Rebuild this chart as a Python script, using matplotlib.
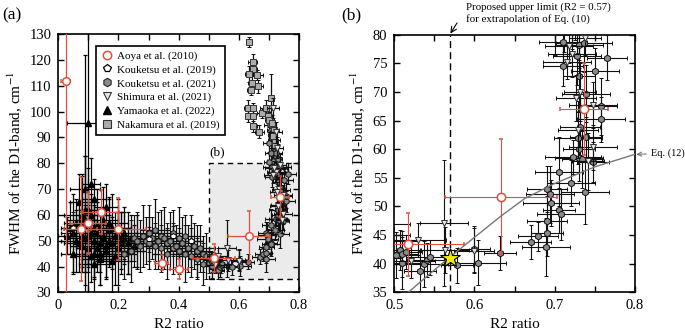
import numpy as np
import matplotlib
matplotlib.use("Agg")
import matplotlib.pyplot as plt
from matplotlib.lines import Line2D
from matplotlib.patches import Rectangle

plt.rcParams['font.family'] = ['Liberation Serif', 'DejaVu Serif']
plt.rcParams['mathtext.fontset'] = 'stix'

# ---- data ----
# Aoya et al. (2010)
aoya_x = [0.025, 0.075, 0.098, 0.143, 0.200, 0.343, 0.400, 0.517, 0.633, 0.737]
aoya_y = [112, 54.5, 57, 61, 54.5, 41.5, 39, 43.4, 51.7, 67]
aoya_xe = [0.015, 0.055, 0.06, 0.06, 0.09, 0.02, 0.03, 0.07, 0.07, 0.03]
aoya_ye = [90, 20, 12, 8.5, 12, 3, 4, 5.5, 10, 8]

# Kouketsu et al. (2019)
k19_x = [0.30, 0.38, 0.44, 0.05]
k19_y = [50.5, 51.8, 50.0, 55.0]
k19_xe = [0.03, 0.03, 0.04, 0.03]
k19_ye = [5, 4, 5, 6]

# Kouketsu et al. (2021)
k21_x = [0.22, 0.24, 0.25, 0.26, 0.27, 0.28, 0.29, 0.30, 0.30, 0.31,
         0.32, 0.32, 0.33, 0.34, 0.34, 0.35, 0.36, 0.36, 0.37, 0.38,
         0.38, 0.39, 0.40, 0.40, 0.41, 0.42, 0.42, 0.43, 0.44, 0.44,
         0.45, 0.46, 0.46, 0.47, 0.48, 0.48, 0.49,
         0.502, 0.507, 0.510, 0.510, 0.514, 0.532, 0.537, 0.541, 0.545, 0.578,
         0.599, 0.604, 0.632, 0.670, 0.679,
         0.689, 0.690, 0.691, 0.690, 0.694, 0.696, 0.706, 0.708, 0.7055, 0.7205,
         0.738, 0.723, 0.730, 0.734, 0.748, 0.730, 0.729, 0.739, 0.732, 0.758,
         0.758, 0.739, 0.731, 0.750, 0.711, 0.765, 0.728, 0.711, 0.731, 0.737,
         0.705, 0.712, 0.700, 0.716, 0.706, 0.722, 0.712, 0.730, 0.718, 0.708,
         0.725, 0.700]
k21_y = [45, 46, 51, 50, 48, 52, 50, 53, 49, 51,
         54, 48, 50, 52, 47, 51, 49, 45, 50, 53,
         47, 48, 51, 46, 49, 52, 45, 47, 50, 44,
         48, 46, 43, 47, 45, 41, 44,
         41.5, 42.4, 41.7, 40.1, 42.0, 38.7, 40.0, 40.6, 41.1, 39.7,
         42.6, 40.2, 41.9, 43.8, 44.8,
         42.9, 45.3, 47.4, 53.1, 52.1, 50.6, 49.3, 48.6, 56.1, 54.1,
         52.5, 58.6, 58.4, 58.2, 57.8, 60.1, 62.0, 62.1, 63.9, 65.2,
         67.5, 69.7, 72.7, 73.6, 74.5, 76.0, 76.3, 78.7, 78.2, 78.5,
         95, 91, 88, 86, 84, 82.5, 81, 81.5, 89, 93,
         84, 80.5]
k21_xe = [0.04, 0.05, 0.03, 0.04, 0.05, 0.03, 0.04, 0.05, 0.03, 0.04,
          0.05, 0.03, 0.04, 0.03, 0.05, 0.04, 0.03, 0.05, 0.04, 0.03,
          0.04, 0.05, 0.03, 0.04, 0.03, 0.05, 0.04, 0.03, 0.04, 0.05,
          0.03, 0.04, 0.03, 0.05, 0.04, 0.03, 0.04,
          0.03, 0.025, 0.02, 0.03, 0.02, 0.02, 0.03, 0.025, 0.03, 0.02,
          0.02, 0.035, 0.02, 0.025, 0.025,
          0.03, 0.02, 0.025, 0.025, 0.03, 0.035, 0.02, 0.03, 0.03, 0.03,
          0.03, 0.035, 0.03, 0.025, 0.02, 0.02, 0.03, 0.02, 0.025, 0.03,
          0.02, 0.03, 0.02, 0.03, 0.025, 0.025, 0.03, 0.03, 0.03, 0.035,
          0.02, 0.015, 0.02, 0.015, 0.02, 0.015, 0.02, 0.015, 0.02, 0.015,
          0.02, 0.015]
k21_ye = [10, 12, 9, 11, 10, 12, 9, 11, 10, 8,
          12, 9, 11, 10, 9, 12, 8, 10, 11, 9,
          10, 8, 12, 9, 10, 8, 11, 9, 10, 8,
          9, 10, 8, 9, 7, 8, 9,
          4, 3.5, 4, 4.5, 3, 3.5, 4, 3, 3, 3,
          4, 4, 3, 3, 2.5,
          5, 4, 4.5, 4, 5, 4, 4, 4.5, 6, 4,
          5.5, 3, 4, 5, 3.5, 4, 4.5, 3.5, 5, 4,
          5, 5, 6, 4, 3.5, 4, 5, 4, 4, 5,
          4, 5, 4, 6, 4, 5, 4, 6, 5, 4,
          5, 4]

# Shimura et al. (2021)
shi_x = [0.562, 0.530, 0.521, 0.563, 0.600, 0.738, 0.722, 0.715, 0.732, 0.727,
         0.748, 0.729, 0.748, 0.742, 0.718, 0.715, 0.722, 0.726]
shi_y = [47.1, 44.1, 40.5, 42.4, 42.3, 79.5, 76.6, 75.3, 70.0, 68.9,
         67.7, 63.4, 60.3, 57.9, 78.0, 101.5, 92.0, 86.0]
shi_xe = [0.03, 0.035, 0.03, 0.03, 0.025, 0.02, 0.03, 0.03, 0.02, 0.025,
          0.03, 0.025, 0.03, 0.02, 0.03, 0.02, 0.02, 0.02]
shi_ye = [11, 3, 3, 4, 4, 3, 4, 3, 5, 4,
          4, 5, 4, 5, 3, 4, 4, 4]

# Yamaoka et al. (2022)
ya_x = [0.10, 0.09, 0.04, 0.05, 0.06, 0.07, 0.08, 0.08, 0.09, 0.10,
        0.10, 0.11, 0.11, 0.12, 0.12, 0.13, 0.13, 0.14, 0.15, 0.15,
        0.16, 0.17, 0.18, 0.19, 0.20, 0.21, 0.22, 0.23, 0.24, 0.25,
        0.26, 0.06, 0.09, 0.12, 0.14, 0.17, 0.20, 0.23, 0.11, 0.08,
        0.05, 0.03,
        0.07, 0.09, 0.10, 0.11, 0.12, 0.13, 0.14, 0.15, 0.16, 0.17,
        0.18, 0.19, 0.20, 0.21, 0.22, 0.10, 0.12, 0.08, 0.16, 0.18]
ya_y = [95.5, 62, 55, 53, 50, 65, 52, 48, 70, 56,
        52, 44, 60, 50, 55, 47, 53, 43, 58, 51,
        46, 54, 49, 52, 47, 50, 53, 49, 51, 48,
        50, 57, 58, 66, 45, 57, 55, 46, 72, 58,
        45, 52,
        49, 51, 47, 53, 45, 56, 49, 52, 48, 50,
        55, 44, 52, 49, 51, 62, 41, 60, 63, 42]
ya_xe = [0.07, 0.02, 0.03, 0.04, 0.05, 0.03, 0.06, 0.04, 0.05, 0.07,
         0.06, 0.05, 0.04, 0.06, 0.05, 0.07, 0.04, 0.06, 0.05, 0.06,
         0.04, 0.05, 0.07, 0.05, 0.06, 0.05, 0.04, 0.06, 0.05, 0.04,
         0.05, 0.04, 0.03, 0.04, 0.05, 0.06, 0.04, 0.05, 0.03, 0.05,
         0.04, 0.03,
         0.05, 0.06, 0.04, 0.05, 0.06, 0.04, 0.05, 0.06, 0.04, 0.05,
         0.06, 0.04, 0.05, 0.06, 0.04, 0.03, 0.05, 0.06, 0.04, 0.05]
ya_ye = [68, 60, 10, 15, 12, 11, 9, 10, 13, 15,
         12, 10, 8, 14, 11, 9, 12, 10, 13, 9,
         11, 12, 10, 9, 14, 11, 10, 12, 9, 8,
         10, 9, 25, 8, 12, 10, 11, 9, 10, 18,
         8, 7,
         11, 13, 9, 12, 10, 14, 11, 9, 12, 10,
         13, 11, 9, 12, 10, 16, 14, 15, 9, 12]

# Nakamura et al. (2019)
nak_x = [0.634, 0.646, 0.648, 0.635, 0.659, 0.643, 0.665, 0.639, 0.707, 0.631,
         0.646, 0.631, 0.646, 0.676, 0.690, 0.696, 0.701, 0.648, 0.668, 0.709,
         0.717, 0.714, 0.720, 0.720]
nak_y = [127.0, 119.4, 116.5, 114.6, 114.3, 111.1, 109.8, 108.5, 105.5, 101.4,
         101.4, 98.4, 98.4, 99.5, 101.4, 98.4, 96.9, 94.3, 92.3, 95.6,
         93.0, 90.7, 88.4, 86.8]
nak_xe = [0.01, 0.015, 0.012, 0.015, 0.02, 0.012, 0.015, 0.012, 0.01, 0.015,
          0.012, 0.01, 0.012, 0.015, 0.02, 0.018, 0.015, 0.012, 0.015, 0.012,
          0.015, 0.012, 0.01, 0.012]
nak_ye = [2, 3, 2.5, 3, 2, 3, 2.5, 2, 9, 3,
          2, 2.5, 3, 2, 3, 2, 3, 2, 2.5, 3,
          2, 3, 2.5, 2]

# Eq. (12) curve
eq12_x = [0.5175, 0.55, 0.57, 0.60, 0.633, 0.663, 0.70, 0.75, 0.80]
eq12_y = [35.0, 38.9, 41.2, 44.6, 48.3, 51.4, 54.0, 56.9, 59.1]

star_x, star_y = 0.57, 41.0

RED = '#e0503c'


def draw_data(ax, ms, elw):
    ebkw = dict(ls='none', elinewidth=elw, capsize=1.6, capthick=elw)
    ax.errorbar(ya_x, ya_y, xerr=ya_xe, yerr=ya_ye, marker='^', ms=ms,
                mfc='black', mec='black', ecolor='black', zorder=3, **ebkw)
    ax.errorbar(k21_x, k21_y, xerr=k21_xe, yerr=k21_ye, marker='h', ms=ms,
                mfc='#8a8a8a', mec='#111111', mew=0.7, ecolor='#111111', zorder=4, **ebkw)
    ax.errorbar(nak_x, nak_y, xerr=nak_xe, yerr=nak_ye, marker='s', ms=ms,
                mfc='#ababab', mec='#333333', mew=0.7, ecolor='#111111', zorder=4, **ebkw)
    ax.errorbar(k19_x, k19_y, xerr=k19_xe, yerr=k19_ye, marker='p', ms=ms,
                mfc='white', mec='black', mew=0.7, ecolor='#111111', zorder=4, **ebkw)
    ax.errorbar(shi_x, shi_y, xerr=shi_xe, yerr=shi_ye, marker='v', ms=ms,
                mfc='#e6e6e6', mec='#333333', mew=0.7, ecolor='#111111', zorder=5, **ebkw)
    ax.errorbar(aoya_x, aoya_y, xerr=aoya_xe, yerr=aoya_ye, marker='o', ms=ms + 1.2,
                mfc='white', mec=RED, mew=1.1, ecolor=RED, zorder=6, **ebkw)


def style_axis(ax):
    ax.tick_params(which='both', direction='in', top=True, right=True,
                   length=4, width=1, labelsize=10.5, pad=5)
    for s in ax.spines.values():
        s.set_linewidth(1.2)
    ax.set_xlabel('R2 ratio', fontsize=11)
    ax.set_ylabel('FWHM of the D1-band, cm$^{-1}$', fontsize=11)


fig = plt.figure(figsize=(6.85, 3.36), dpi=100)
axa = fig.add_axes([58.3 / 685, 1 - 292.3 / 336, 240.7 / 685, 258 / 336])
axb = fig.add_axes([394.3 / 685, 1 - 292.3 / 336, 240.4 / 685, 257.6 / 336])

# ---- panel (a) ----
axa.add_patch(Rectangle((0.5, 35), 0.3, 45, facecolor='#ebebeb', edgecolor='black',
                        ls=(0, (4, 3)), lw=1.0, zorder=1))
draw_data(axa, 4.3, 0.9)
axa.set_xlim(0, 0.8)
axa.set_ylim(30, 130)
axa.set_xticks(np.arange(0, 0.81, 0.2))
axa.set_xticks(np.arange(0, 0.81, 0.1), minor=True)
axa.set_xticklabels(['0', '0.2', '0.4', '0.6', '0.8'])
axa.set_yticks(np.arange(30, 131, 10))
axa.text(0.503, 82, '(b)', fontsize=9.5, ha='left', va='bottom')
style_axis(axa)

handles = [
    Line2D([], [], ls='none', marker='o', ms=6, mfc='white', mec=RED, mew=1.1),
    Line2D([], [], ls='none', marker='p', ms=6, mfc='white', mec='black', mew=0.9),
    Line2D([], [], ls='none', marker='h', ms=6, mfc='#8a8a8a', mec='#222222', mew=0.8),
    Line2D([], [], ls='none', marker='v', ms=6, mfc='#e6e6e6', mec='#333333', mew=0.8),
    Line2D([], [], ls='none', marker='^', ms=6, mfc='black', mec='black'),
    Line2D([], [], ls='none', marker='s', ms=6, mfc='#ababab', mec='#333333', mew=0.8),
]
labels = ['Aoya et al. (2010)', 'Kouketsu et al. (2019)', 'Kouketsu et al. (2021)',
          'Shimura et al. (2021)', 'Yamaoka et al. (2022)', 'Nakamura et al. (2019)']
leg = axa.legend(handles, labels, loc='upper left', bbox_to_anchor=(0.155, 0.956),
                 borderaxespad=0, fontsize=8, fancybox=False, framealpha=1,
                 edgecolor='black', handletextpad=0.3, handlelength=1.2,
                 labelspacing=0.35, borderpad=0.45)
leg.get_frame().set_linewidth(1.2)
leg.set_zorder(10)

# ---- panel (b) ----
draw_data(axb, 4.8, 0.8)
axb.plot(eq12_x, eq12_y, color='#777777', lw=1.0, zorder=7)
axb.axvline(0.57, color='black', ls=(0, (5, 3)), lw=1.0, zorder=2)
axb.plot([star_x], [star_y], marker='*', ms=15, mfc='#f2ea00', mec='black',
         mew=0.8, ls='none', zorder=8)
axb.set_xlim(0.5, 0.8)
axb.set_ylim(35, 80)
axb.set_xticks([0.5, 0.6, 0.7, 0.8])
axb.set_xticks(np.arange(0.5, 0.801, 0.05), minor=True)
axb.set_yticks(np.arange(35, 81, 5))
style_axis(axb)

fig.text(466 / 685, 1 - 13.5 / 336,
         'Proposed upper limit (R2 = 0.57)\nfor extrapolation of Eq. (10)',
         fontsize=7.8, ha='left', va='center', linespacing=1.25)
axb.annotate('', xy=(0.57, 80.2), xycoords='data',
             xytext=(457 / 685, 1 - 23 / 336), textcoords='figure fraction',
             annotation_clip=False,
             arrowprops=dict(arrowstyle='->', color='black', lw=0.8,
                             shrinkA=0, shrinkB=0))
axb.annotate('Eq. (12)', xy=(0.802, 59.1), xycoords='data',
             xytext=(651 / 685, 1 - 153.3 / 336), textcoords='figure fraction',
             fontsize=7.4, ha='left', va='center', annotation_clip=False,
             arrowprops=dict(arrowstyle='->', color='#777777', lw=0.8,
                             shrinkA=1.5, shrinkB=0))

fig.text(2 / 685, 1 - 15 / 336, '(a)', fontsize=12.5, va='center', ha='left')
fig.text(341 / 685, 1 - 15 / 336, '(b)', fontsize=12.5, va='center', ha='left')

fig.savefig('out.png', dpi=100)
